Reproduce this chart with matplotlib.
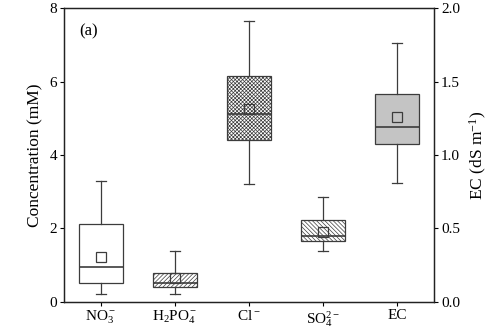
import matplotlib
matplotlib.use("Agg")
import matplotlib.pyplot as plt

plt.rcParams["font.family"] = ["Liberation Serif", "DejaVu Serif"]
plt.rcParams["mathtext.fontset"] = "stix"
plt.rcParams["hatch.linewidth"] = 0.5

# Box statistics (ions in mM, EC in dS/m)
ions = [r"NO$\mathregular{_3^-}$", r"H$\mathregular{_2}$PO$\mathregular{_4^-}$",
        r"Cl$\mathregular{^-}$", r"SO$\mathregular{_4^{2-}}$"]
ion_whislo = [0.20, 0.20, 3.21, 1.39]
ion_q1 = [0.52, 0.39, 4.42, 1.65]
ion_med = [0.94, 0.50, 5.13, 1.80]
ion_mean = [1.23, 0.64, 5.26, 1.90]
ion_q3 = [2.11, 0.79, 6.15, 2.23]
ion_whishi = [3.28, 1.39, 7.65, 2.86]
ion_hatch = ["", "////////", "xxxxxxxxx", "\\\\\\\\\\\\\\\\"]

ec_label = "EC"
ec_stats = dict(whislo=0.807, q1=1.075, med=1.19, mean=1.257, q3=1.416, whishi=1.76)

edge = "#3c3c3c"

fig = plt.figure(figsize=(5.0, 3.31), dpi=100)
ax = fig.add_axes([0.128, 0.0885, 0.74, 0.8865])
ax2 = ax.twinx()

stats = []
for i in range(len(ions)):
    stats.append(dict(whislo=ion_whislo[i], q1=ion_q1[i], med=ion_med[i],
                      mean=ion_mean[i], q3=ion_q3[i], whishi=ion_whishi[i],
                      fliers=[]))

line_kw = dict(color=edge, linewidth=0.9)
med_kw = dict(color=edge, linewidth=1.2)
mean_kw = dict(marker="s", markersize=7, markerfacecolor="none",
               markeredgecolor=edge, markeredgewidth=0.9)

bp = ax.bxp(stats, positions=range(1, len(ions) + 1), widths=0.6,
            capwidths=0.13, patch_artist=True, showmeans=True,
            boxprops=dict(edgecolor=edge, linewidth=0.9),
            medianprops=med_kw, whiskerprops=line_kw, capprops=line_kw,
            meanprops=mean_kw)
for box, h in zip(bp["boxes"], ion_hatch):
    box.set_facecolor("white")
    box.set_hatch(h)

ec = dict(ec_stats, fliers=[])
bp2 = ax2.bxp([ec], positions=[len(ions) + 1], widths=0.6, capwidths=0.13,
              patch_artist=True, showmeans=True,
              boxprops=dict(edgecolor=edge, linewidth=0.9, facecolor="#c4c4c4"),
              medianprops=med_kw, whiskerprops=line_kw, capprops=line_kw,
              meanprops=dict(mean_kw, markerfacecolor="#c4c4c4"))

ax.set_xlim(0.5, len(ions) + 1.5)
ax.set_xticks(range(1, len(ions) + 2))
ax.set_xticklabels(ions + [ec_label], fontsize=11)
ax.set_ylim(0, 8)
ax.set_yticks([0, 2, 4, 6, 8])
ax2.set_ylim(0, 2)
ax2.set_yticks([0, 0.5, 1.0, 1.5, 2.0])
ax2.set_yticklabels(["0.0", "0.5", "1.0", "1.5", "2.0"])

for a in (ax, ax2):
    a.tick_params(labelsize=11, length=3, width=0.8, direction="out", pad=2)
    for s in a.spines.values():
        s.set_linewidth(0.9)
        s.set_color("#222222")

ax.set_ylabel("Concentration (mM)", fontsize=12.5, labelpad=4)
ax2.set_ylabel(r"EC (dS m$\mathregular{^{-1}}$)", fontsize=12.5, labelpad=6)
ax.text(0.04, 0.95, "(a)", transform=ax.transAxes, fontsize=12,
        ha="left", va="top")

fig.savefig("out.png", dpi=100)
